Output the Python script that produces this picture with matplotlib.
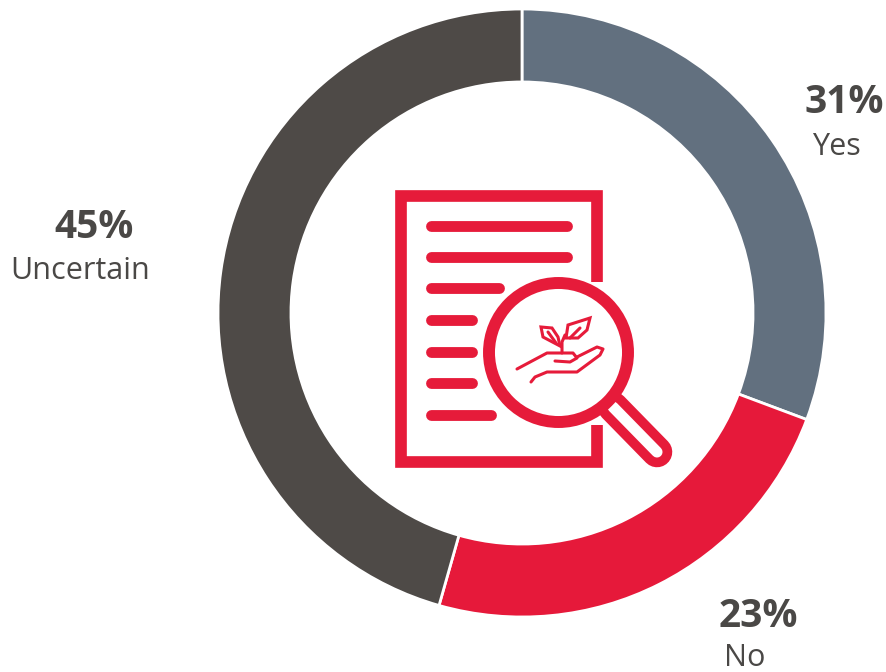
import matplotlib
matplotlib.use('Agg')
import matplotlib.pyplot as plt
from matplotlib.patches import Circle, Polygon

labels = ['Yes', 'No', 'Uncertain']
percent_labels = ['31%', '23%', '45%']
# wedge shares as measured from the ring, they don't quite follow the printed numbers
shares = [30.7, 23.7, 45.6]
colors = ['#62707f', '#e6193a', '#4e4a47']
line_y = [226, 257, 288, 320, 352, 383, 415]
line_end = [567, 567, 499, 472, 472, 472, 491]
W, H = 886, 672
RED = '#e61b3a'
TEXT = '#4a4846'

plt.rcParams['font.family'] = ['Open Sans', 'DejaVu Sans']
fig = plt.figure(figsize=(W / 100, H / 100), dpi=100)

# overlay in pixel coordinates of the picture
ax = fig.add_axes([0, 0, 1, 1], zorder=2)
ax.set_xlim(0, W)
ax.set_ylim(H, 0)
ax.axis('off')

pie_ax = fig.add_axes([218 / W, 1 - 617 / H, 608 / W, 608 / H], zorder=1)
pie_ax.pie(shares, colors=colors, startangle=90, counterclock=False,
           radius=1.0, wedgeprops=dict(width=0.24, edgecolor='white', linewidth=2))
pie_ax.set_xlim(-1, 1)
pie_ax.set_ylim(-1, 1)
pie_ax.set_aspect('equal')

# page
ax.plot([597, 597, 401, 401, 597, 597], [282, 196, 196, 462, 462, 425], color=RED, lw=8.4,
        solid_joinstyle='miter', solid_capstyle='butt', zorder=3)

# text lines on the page
for y, x_end in zip(line_y, line_end):
    ax.plot([431, x_end], [y, y], color=RED, lw=7.8, solid_capstyle='round', zorder=3)

# magnifier
ax.plot([613, 657], [407, 452], color=RED, lw=22, solid_capstyle='round', zorder=3)
ax.plot([613, 657], [407, 452], color='white', lw=8, solid_capstyle='round', zorder=3)
ax.add_patch(Circle((558.5, 352.5), 69.5, facecolor='white', edgecolor=RED, lw=8.6, zorder=4))

# hand and sprout
hand_lines = [
    ([517, 547, 573, 577, 570, 555], [369, 353, 353, 358, 362, 361]),
    ([577, 597, 603, 600, 577, 547, 535, 531], [357, 347, 349, 355, 372, 372, 377, 382]),
    ([562, 562, 565], [353, 342, 335]),
    ([570, 580], [338, 328]),
    ([548, 556], [332, 343]),
]
for xs, ys in hand_lines:
    ax.plot(xs, ys, color=RED, lw=2.2, solid_capstyle='round', solid_joinstyle='round', zorder=5)
for pts in ([(566, 338), (568, 325), (590, 318), (587, 330), (578, 338)],
            [(560, 346), (543, 337), (541, 327), (552, 328), (558, 337)]):
    ax.add_patch(Polygon(pts, closed=True, fill=False, edgecolor=RED, lw=2.2, zorder=5))

# labels
pct_x = [844, 758, 94]
pct_base = [113, 627, 238]
name_x = [836, 745, 80]
name_base = [155, 666, 279]
for i in range(3):
    ax.text(pct_x[i], pct_base[i], percent_labels[i], fontsize=28, fontweight='bold', color=TEXT,
            ha='center', va='baseline')
    ax.text(name_x[i], name_base[i], labels[i], fontsize=22, color=TEXT, ha='center', va='baseline')

fig.savefig('out.png', dpi=100, facecolor='white')
